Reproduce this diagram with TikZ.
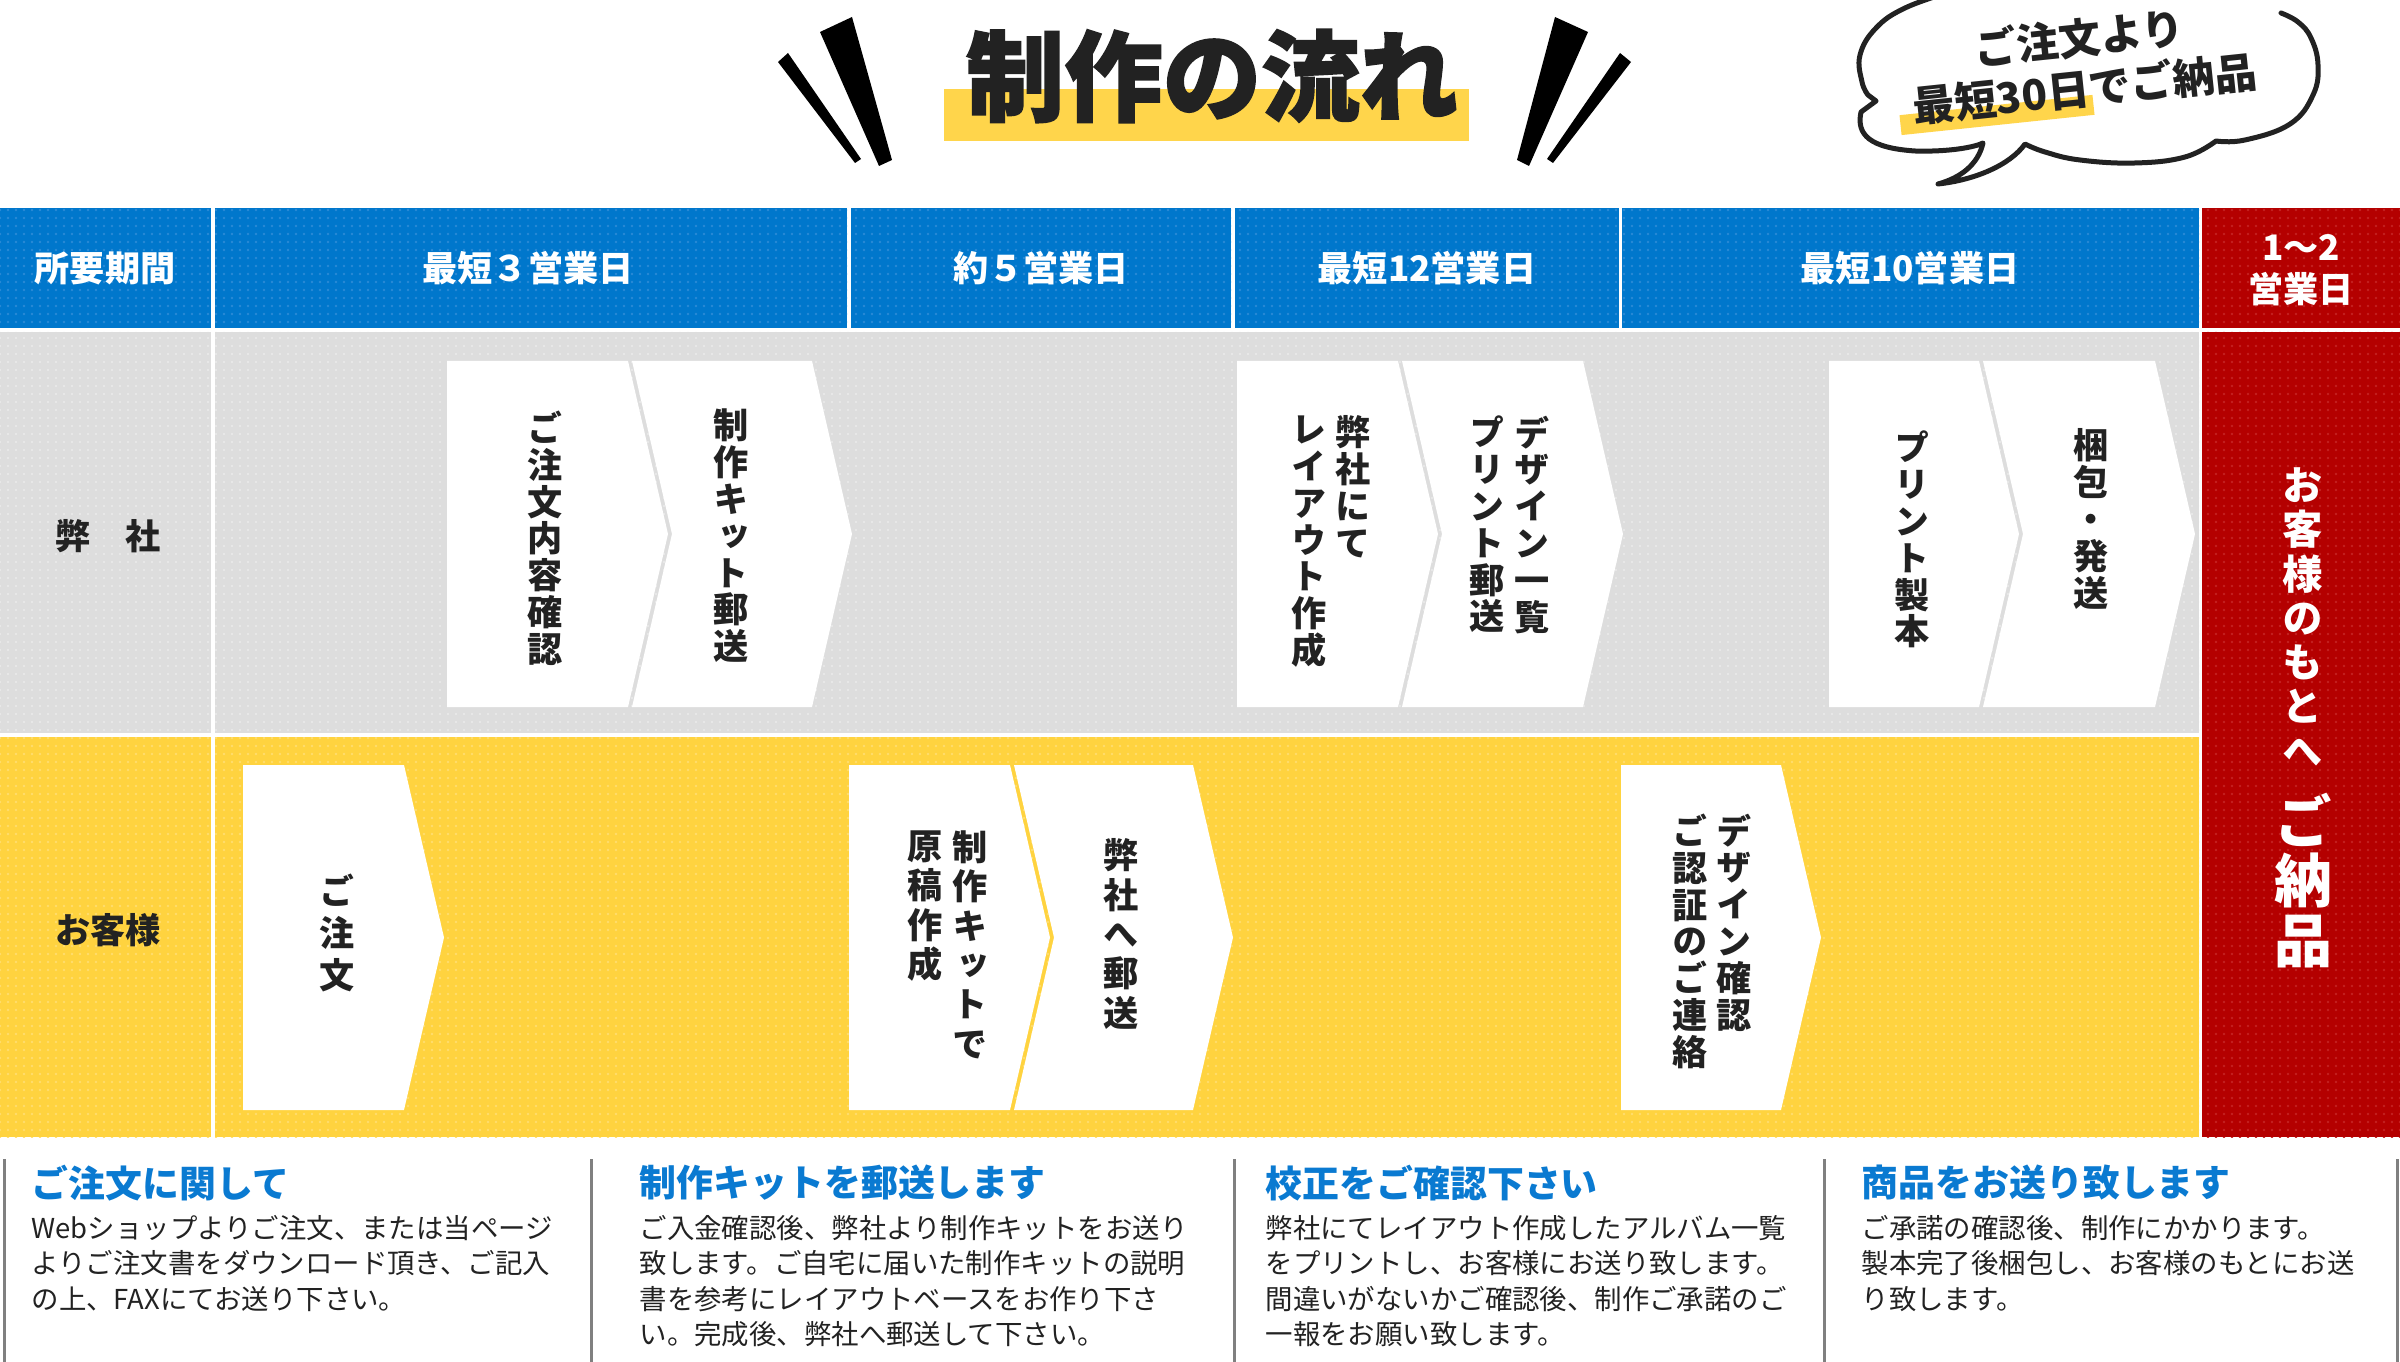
\documentclass[tikz,border=0pt]{standalone}
\usepackage{fontspec}
\setmainfont{Noto Sans CJK JP}
\newfontfamily\tatefont{Noto Sans CJK JP}[RawFeature=+vert]
\newfontfamily\titlefont{Noto Sans CJK JP}[BoldFeatures={FakeBold=1.6}]
\usetikzlibrary{patterns.meta}
\definecolor{ink}{HTML}{222222}
\definecolor{band}{HTML}{0077CC}
\definecolor{banddot}{HTML}{2A8AD6}
\definecolor{shade}{HTML}{DDDDDD}
\definecolor{shadedot}{HTML}{E9E9E9}
\definecolor{mustard}{HTML}{FFD33F}
\definecolor{mustarddot}{HTML}{FFDE6E}
\definecolor{crimson}{HTML}{B40000}
\definecolor{crimsondot}{HTML}{C42222}
\definecolor{marker}{HTML}{FFD54B}
\definecolor{rulegray}{HTML}{808080}
\definecolor{headblue}{HTML}{0A7AD1}
\tikzdeclarepattern{
  name=dotgrid, type=uncolored,
  bounding box={(-0.4mm,-0.4mm) and (0.4mm,0.4mm)},
  tile size={(0.8mm,0.8mm)},
  code={\fill (0,0) circle (0.14mm);}
}
\tikzset{
  bluecell/.style={fill=band, postaction={pattern=dotgrid, pattern color=banddot}},
  graycell/.style={fill=shade, postaction={pattern=dotgrid, pattern color=shadedot}},
  yellowcell/.style={fill=mustard, postaction={pattern=dotgrid, pattern color=mustarddot}},
  redcell/.style={fill=crimson, postaction={pattern=dotgrid, pattern color=crimsondot}},
  head/.style={font=\bfseries\fontsize{10}{12}\selectfont, text=white, align=center, inner sep=0pt},
  lane/.style={font=\bfseries\fontsize{10}{12}\selectfont, text=ink, inner sep=0pt},
  tate/.style={font=\tatefont\bfseries\fontsize{10}{#1}\selectfont, text=ink, align=center, anchor=north, inner sep=0pt},
  tate/.default=10.5,
  heading/.style={font=\bfseries\fontsize{10.5}{12}\selectfont, text=headblue, anchor=west, inner sep=0pt},
  body/.style={font=\fontsize{7.8}{10}\selectfont, text=ink, align=left, anchor=north west, inner sep=0pt},
  divider/.style={draw=rulegray, line width=0.3mm},
  bubble/.style={draw=ink, line width=0.5mm, line cap=round, line join=round}
}

\begin{document}
\begin{tikzpicture}[x=0.1mm,y=-0.1mm]
\path[use as bounding box, clip] (0,0) rectangle (2400,1362);
\fill[white] (0,0) rectangle (2400,1362);

% title
\fill[marker] (944,89) rectangle (1469,141);
\node[font=\titlefont\bfseries\fontsize{28}{30}\selectfont, text=ink, inner sep=0pt] (title) at (1212,76) {制作の流れ};
\fill[black] (778,62) -- (788,53) -- (861,159) -- (855,163) -- cycle;
\fill[black] (820,32) -- (852,17) -- (892,160) -- (879,166) -- cycle;
\fill[black] (1555,17) -- (1588,32) -- (1529,166) -- (1517,160) -- cycle;
\fill[black] (1620,53) -- (1631,62) -- (1553,163) -- (1547,159) -- cycle;

% speech bubble
\draw[bubble] plot[smooth, tension=0.7] coordinates {(1950,-8) (1905,8) (1876,28) (1860,55) (1862,82) (1868,95)}
  -- (1876,101) -- (1861,112)
  .. controls (1856,135) and (1870,148) .. (1915,151)
  .. controls (1950,152) and (1975,147) .. (1983,143)
  .. controls (1978,165) and (1960,178) .. (1938,184)
  .. controls (1975,180) and (2010,165) .. (2025,144)
  -- plot[smooth, tension=0.7] coordinates {(2025,144) (2045,152) (2080,160) (2135,163) (2185,157) (2216,141)}
  -- plot[smooth, tension=0.7] coordinates {(2216,141) (2245,140) (2290,124) (2313,95) (2318,65) (2311,38) (2298,22) (2281,13)};
\fill[marker, rotate around={6:(1997,115)}] (1900,105) rectangle (2094,125);
\node[rotate=6, align=center, font=\bfseries\fontsize{12}{14.5}\selectfont, text=ink, inner sep=0pt] (promo) at (2082,63) {ご注文より\\最短30日でご納品};

% table
\foreach \a/\b in {0/211, 215/847, 851/1231, 1235/1619, 1622/2199}
  \fill[bluecell] (\a,208) rectangle (\b,328);
\fill[redcell] (2202,208) rectangle (2400,328);
\fill[redcell] (2202,332) rectangle (2400,1137);
\fill[graycell] (0,332) rectangle (211,733);
\fill[graycell] (215,332) rectangle (2199,733);
\fill[yellowcell] (0,737) rectangle (211,1137);
\fill[yellowcell] (215,737) rectangle (2199,1137);

\node[head] (span0) at (105,268) {所要期間};
\node[head] (span1) at (528,268) {最短３営業日};
\node[head] (span2) at (1041,268) {約５営業日};
\node[head] (span3) at (1427,268) {最短12営業日};
\node[head] (span4) at (1910,268) {最短10営業日};
\node[head] (span5) at (2301,270) {1～2\\営業日};

\node[lane] (us) at (108,536) {弊　社};
\node[lane] (client) at (108,930) {お客様};

% chevrons
\foreach \l/\r/\t/\b/\n in {447/628/361/707/0, 632/812/361/707/40, 1237/1398/361/707/0, 1402/1583/361/707/40,
    1829/1979/361/707/0, 1983/2155/361/707/40, 243/404/765/1110/0, 849/1010/765/1110/0,
    1014/1193/765/1110/40, 1621/1781/765/1110/0}
  \fill[white] (\l,\t) -- (\r,\t) -- ({\r+40},{(\t+\b)/2}) -- (\r,\b) -- (\l,\b) -- ({\l+\n},{(\t+\b)/2}) -- cycle;

\node[tate] (check) at (545,410) {ご\\注\\文\\内\\容\\確\\認};
\node[tate] (kit) at (731,408) {制\\作\\キ\\ッ\\ト\\郵\\送};
\node[tate] (layoutA) at (1353,415) {弊\\社\\に\\て};
\node[tate] (layoutB) at (1309,415) {レ\\イ\\ア\\ウ\\ト\\作\\成};
\node[tate] (proofA) at (1532,415) {デ\\ザ\\イ\\ン\\一\\覧};
\node[tate] (proofB) at (1487,415) {プ\\リ\\ン\\ト\\郵\\送};
\node[tate] (bind) at (1912,430) {プ\\リ\\ン\\ト\\製\\本};
\node[tate] (ship) at (2091,428) {梱\\包\\・\\発\\送};
\node[tate=12] (order) at (337,873) {ご\\注\\文};
\node[tate=11.2] (draftA) at (970,830) {制\\作\\キ\\ッ\\ト\\で};
\node[tate=11.2] (draftB) at (925,830) {原\\稿\\作\\成};
\node[tate=11.2] (mail) at (1121,838) {弊\\社\\へ\\郵\\送};
\node[tate] (approveA) at (1734,813) {デ\\ザ\\イ\\ン\\確\\認};
\node[tate] (approveB) at (1690,813) {ご\\認\\証\\の\\ご\\連\\絡};
\node[tate, text=white, font=\tatefont\bfseries\fontsize{11.5}{12.6}\selectfont] (deliver) at (2303,467) {お\\客\\様\\の\\も\\と\\へ};
\node[tate, text=white, font=\tatefont\bfseries\fontsize{16.5}{17}\selectfont] (goods) at (2303,792) {ご\\納\\品};

% notes
\foreach \x in {4,591,1234,1824,2397}
  \draw[divider] (\x,1159) -- (\x,1362);
\node[heading] (h1) at (31,1183) {ご注文に関して};
\node[heading] (h2) at (639,1183) {制作キットを郵送します};
\node[heading] (h3) at (1265,1183) {校正をご確認下さい};
\node[heading] (h4) at (1861,1183) {商品をお送り致します};
\node[body] (n1) at (31,1215) {Webショップよりご注文、または当ページ\\よりご注文書をダウンロード頂き、ご記入\\の上、FAXにてお送り下さい。};
\node[body] (n2) at (639,1215) {ご入金確認後、弊社より制作キットをお送り\\致します。ご自宅に届いた制作キットの説明\\書を参考にレイアウトベースをお作り下さ\\い。完成後、弊社へ郵送して下さい。};
\node[body] (n3) at (1265,1215) {弊社にてレイアウト作成したアルバム一覧\\をプリントし、お客様にお送り致します。\\間違いがないかご確認後、制作ご承諾のご\\一報をお願い致します。};
\node[body] (n4) at (1861,1215) {ご承諾の確認後、制作にかかります。\\製本完了後梱包し、お客様のもとにお送\\り致します。};
\end{tikzpicture}
\end{document}
